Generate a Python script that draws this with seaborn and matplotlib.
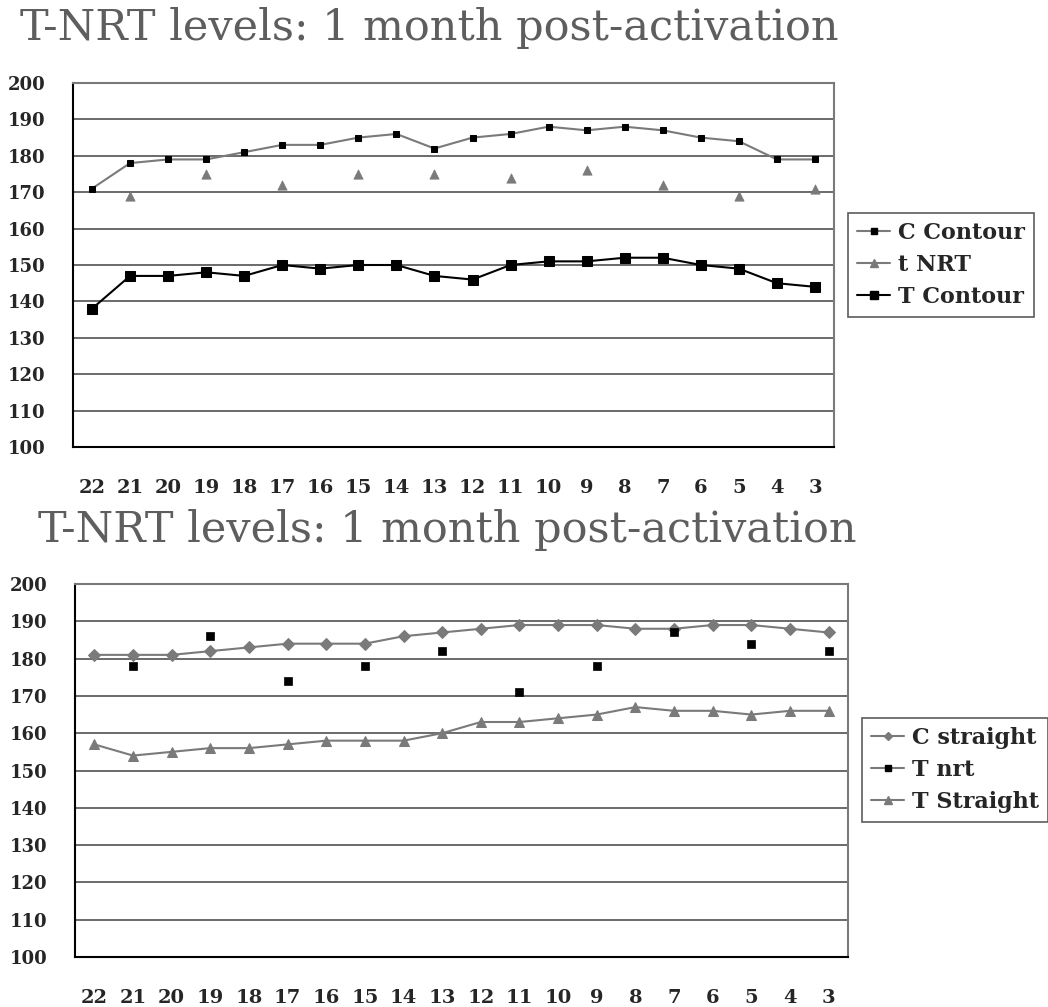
import numpy as np
import pandas as pd
import matplotlib
matplotlib.use("Agg")
import matplotlib.pyplot as plt
from matplotlib.lines import Line2D
import seaborn as sns

# ---------------- data ----------------
categories = ["22", "21", "20", "19", "18", "17", "16", "15", "14", "13",
              "12", "11", "10", "9", "8", "7", "6", "5", "4", "3"]

c_contour = [171, 178, 179, 179, 181, 183, 183, 185, 186, 182,
             185, 186, 188, 187, 188, 187, 185, 184, 179, 179]
t_nrt_top = [np.nan, 169, np.nan, 175, np.nan, 172, np.nan, 175, np.nan, 175,
             np.nan, 174, np.nan, 176, np.nan, 172, np.nan, 169, np.nan, 171]
t_contour = [138, 147, 147, 148, 147, 150, 149, 150, 150, 147,
             146, 150, 151, 151, 152, 152, 150, 149, 145, 144]

c_straight = [181, 181, 181, 182, 183, 184, 184, 184, 186, 187,
              188, 189, 189, 189, 188, 188, 189, 189, 188, 187]
t_nrt_bot = [np.nan, 178, np.nan, 186, np.nan, 174, np.nan, 178, np.nan, 182,
             np.nan, 171, np.nan, 178, np.nan, 187, np.nan, 184, np.nan, 182]
t_straight = [157, 154, 155, 156, 156, 157, 158, 158, 158, 160,
              163, 163, 164, 165, 167, 166, 166, 165, 166, 166]

title_text = "T-NRT levels: 1 month post-activation"
y_ticks = list(range(100, 201, 10))

# ---------------- style ----------------
sns.set_style("white")
plt.rcParams["font.family"] = ["DejaVu Serif"]

GRAY = "#7a7a7a"
GRID = "#6a6a6a"
TITLE_GRAY = "#5e5e5e"
LABEL_FONT = dict(family="DejaVu Serif", weight="bold")

pos = np.arange(len(categories))
fig = plt.figure(figsize=(10.48, 10.07), dpi=100)

ax1 = fig.add_axes([73 / 1048, 1 - 447 / 1007, 761 / 1048, 364 / 1007])
ax2 = fig.add_axes([75 / 1048, 1 - 957 / 1007, 773 / 1048, 373 / 1007])

df1 = pd.DataFrame({"pos": pos, "C Contour": c_contour, "t NRT": t_nrt_top, "T Contour": t_contour})
df2 = pd.DataFrame({"pos": pos, "C straight": c_straight, "T nrt": t_nrt_bot, "T Straight": t_straight})

# top chart
sns.lineplot(data=df1, x="pos", y="C Contour", ax=ax1, color=GRAY, lw=1.5,
             marker="s", markersize=5, markerfacecolor="black", markeredgecolor="black", zorder=3)
sns.scatterplot(data=df1, x="pos", y="t NRT", ax=ax1, color=GRAY, marker="^", s=45,
                edgecolor=GRAY, linewidth=0.5, zorder=3)
sns.lineplot(data=df1, x="pos", y="T Contour", ax=ax1, color="black", lw=1.5,
             marker="s", markersize=7, markerfacecolor="black", markeredgecolor="black", zorder=3)

# bottom chart
sns.lineplot(data=df2, x="pos", y="C straight", ax=ax2, color=GRAY, lw=1.5,
             marker="D", markersize=6, markerfacecolor=GRAY, markeredgecolor=GRAY, zorder=3)
sns.scatterplot(data=df2, x="pos", y="T nrt", ax=ax2, color="black", marker="s", s=30,
                edgecolor="black", linewidth=0.5, zorder=3)
sns.lineplot(data=df2, x="pos", y="T Straight", ax=ax2, color=GRAY, lw=1.5,
             marker="^", markersize=7, markerfacecolor=GRAY, markeredgecolor=GRAY, zorder=3)

for ax in (ax1, ax2):
    ax.set_xlim(-0.5, len(categories) - 0.5)
    ax.set_ylim(100, 200)
    ax.set_yticks(y_ticks)
    ax.set_yticklabels([str(v) for v in y_ticks], fontsize=13, **LABEL_FONT)
    ax.set_xticks(pos)
    ax.set_xticklabels(categories, fontsize=14, **LABEL_FONT)
    ax.set_xticks(np.arange(-0.5, len(categories), 1.0), minor=True)
    ax.tick_params(axis="x", which="major", length=0, pad=23)
    ax.tick_params(axis="x", which="minor", length=8, width=1.3, color="black", direction="out")
    ax.tick_params(axis="y", which="major", length=10, width=1.3, color="black", direction="out", pad=10)
    ax.set_xlabel("")
    ax.set_ylabel("")
    ax.grid(axis="y", color=GRID, lw=1.4, zorder=0)
    ax.grid(axis="x", visible=False)
    ax.set_axisbelow(True)
    for side in ("left", "bottom"):
        ax.spines[side].set_color("black")
        ax.spines[side].set_linewidth(1.5)
    for side in ("top", "right"):
        ax.spines[side].set_color(GRAY)
        ax.spines[side].set_linewidth(1.5)
    ax.spines["bottom"].set_zorder(4)

# legends
h1 = [Line2D([], [], color=GRAY, lw=1.5, marker="s", markersize=4, markerfacecolor="black", markeredgecolor="black"),
      Line2D([], [], color=GRAY, lw=1.5, marker="^", markersize=6, markerfacecolor=GRAY, markeredgecolor=GRAY),
      Line2D([], [], color="black", lw=1.5, marker="s", markersize=6, markerfacecolor="black", markeredgecolor="black")]
h2 = [Line2D([], [], color=GRAY, lw=1.5, marker="D", markersize=4, markerfacecolor=GRAY, markeredgecolor=GRAY),
      Line2D([], [], color=GRAY, lw=1.5, marker="s", markersize=4, markerfacecolor="black", markeredgecolor="black"),
      Line2D([], [], color=GRAY, lw=1.5, marker="^", markersize=6, markerfacecolor=GRAY, markeredgecolor=GRAY)]

leg_kw = dict(loc="upper left", borderaxespad=0, frameon=True, fancybox=False, shadow=False,
              handlelength=1.5, handletextpad=0.35, labelspacing=0.45, borderpad=0.4,
              prop=dict(family="DejaVu Serif", weight="bold", size=16))
l1 = fig.legend(h1, ["C Contour", "t NRT", "T Contour"],
                bbox_to_anchor=(848 / 1048, 1 - 213 / 1007), bbox_transform=fig.transFigure, **leg_kw)
l2 = fig.legend(h2, ["C straight", "T nrt", "T Straight"],
                bbox_to_anchor=(862 / 1048, 1 - 718 / 1007), bbox_transform=fig.transFigure, **leg_kw)
for lg in (l1, l2):
    lg.get_frame().set_edgecolor("#333333")
    lg.get_frame().set_linewidth(1.2)

# titles
fig.text(20 / 1048, 1 - 40 / 1007, title_text, fontsize=31, color=TITLE_GRAY,
         family="DejaVu Serif", ha="left", va="baseline")
fig.text(38 / 1048, 1 - 542 / 1007, title_text, fontsize=31, color=TITLE_GRAY,
         family="DejaVu Serif", ha="left", va="baseline")

fig.savefig("out.png", dpi=100)
